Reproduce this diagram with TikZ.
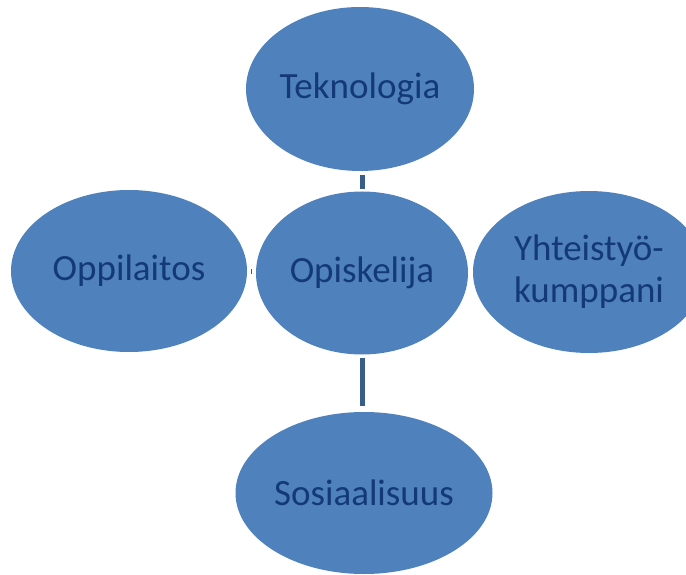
\documentclass[tikz,border=0pt]{standalone}
\usepackage{fontspec}
\setmainfont{Carlito}
\usetikzlibrary{shapes.geometric,calc}
\definecolor{blobfill}{HTML}{4F81BD}
\definecolor{blobtext}{HTML}{133A77}
\definecolor{linkcol}{HTML}{385D8A}
\begin{document}
\begin{tikzpicture}[x=1pt,y=1pt,
  blob/.style={ellipse,fill=blobfill,inner sep=0pt,text=blobtext,
    font=\fontsize{37}{42}\selectfont,align=center},
  link/.style={draw=linkcol,line width=5pt}]
\useasboundingbox (0,0) rectangle (686,574);
\clip (0,0) rectangle (686,574);
\node[blob,minimum width=228,minimum height=164] (tek) at (360,485) {Teknologia};
\node[blob,minimum width=212,minimum height=163] (opi) at (362,301) {Opiskelija};
\node[blob,minimum width=236,minimum height=162] (opp) at (129,303) {Oppilaitos};
\node[blob,minimum width=232,minimum height=162] (yht) at (589,302) {Yhteistyö-\\kumppani};
\node[blob,minimum width=257,minimum height=162] (sos) at (364,81) {Sosiaalisuus};
\draw[link,shorten <=4pt,shorten >=2pt] (tek.south -| opi.north) -- (opi.north);
\draw[link,shorten <=3pt,shorten >=6pt] (opi.south) -- (opi.south |- sos.north);
\draw[draw=linkcol,line width=1pt] ($(opp.east)!0.5!(opi.west)$) ++(0,2.5) -- ++(0,-5);
\end{tikzpicture}
\end{document}
